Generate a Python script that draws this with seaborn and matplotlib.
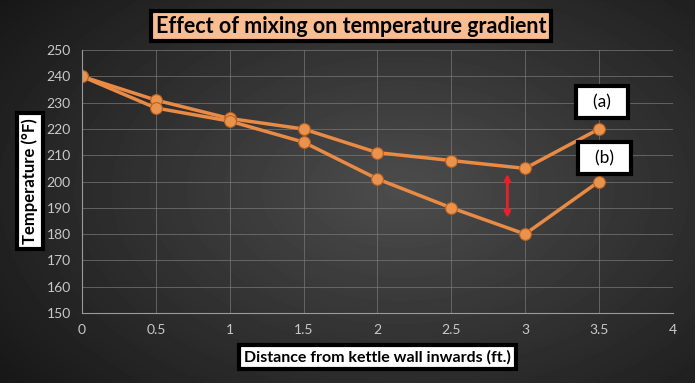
import numpy as np
import pandas as pd
import matplotlib.pyplot as plt
import seaborn as sns
from matplotlib.patches import FancyArrowPatch

distance = [0, 0.5, 1, 1.5, 2, 2.5, 3, 3.5]
temp_a = [240, 231, 224, 220, 211, 208, 205, 220]
temp_b = [240, 228, 223, 215, 201, 190, 180, 200]
series_names = ['(a)', '(b)']
arrow_x = 2.88
arrow_y = [204, 185]

df = pd.DataFrame({
    'distance': distance * 2,
    'temp': temp_a + temp_b,
    'series': [series_names[0]] * len(distance) + [series_names[1]] * len(distance),
})

sns.set_style('dark')
plt.rcParams['font.family'] = ['Lato', 'DejaVu Sans']

fig = plt.figure(figsize=(6.95, 3.83), dpi=100)

# radial gradient background
bg = fig.add_axes([0, 0, 1, 1], zorder=-1)
yy, xx = np.mgrid[0:383, 0:695]
r = np.sqrt(((xx - 400) / 480.0) ** 2 + ((yy - 190) / 300.0) ** 2)
shade = np.clip(0.30 - 0.20 * r, 0.09, 0.30)
bg.imshow(shade, cmap='gray', vmin=0, vmax=1, aspect='auto')
bg.axis('off')

ax = fig.add_axes([0.118, 0.183, 0.850, 0.686])
ax.set_facecolor('none')

sns.lineplot(data=df, x='distance', y='temp', hue='series',
             palette=['#e98a45', '#e98a45'], marker='o', markersize=8.5,
             markerfacecolor='#e9934f', markeredgecolor='#b8601f',
             markeredgewidth=0.8, linewidth=2.5, legend=False, ax=ax)

ax.set_xlim(0, 4)
ax.set_ylim(150, 250)
ax.set_xticks(np.arange(0, 4.01, 0.5))
ax.set_xticklabels(['0', '0.5', '1', '1.5', '2', '2.5', '3', '3.5', '4'])
ax.set_yticks(np.arange(150, 251, 10))
ax.grid(True, color='#7a7a7a', linewidth=0.6, alpha=0.8)
for s in ['top', 'right']:
    ax.spines[s].set_visible(False)
for s in ['left', 'bottom']:
    ax.spines[s].set_visible(True)
    ax.spines[s].set_color('#9a9a9a')
    ax.spines[s].set_linewidth(0.8)
ax.tick_params(colors='#c8c8c8', labelsize=10, length=0, pad=8)
ax.set_xlabel('')
ax.set_ylabel('')

arrow = FancyArrowPatch((arrow_x, arrow_y[0]), (arrow_x, arrow_y[1]),
                        arrowstyle='<|-|>', mutation_scale=9,
                        color='#e8202a', linewidth=2)
ax.add_patch(arrow)

fig.text(0.505, 0.932, 'Effect of mixing on temperature gradient',
         ha='center', va='center', fontsize=15.5, fontweight='bold',
         color='black',
         bbox=dict(boxstyle='square,pad=0.22', facecolor='#f9bd91',
                   edgecolor='black', linewidth=3))
fig.text(0.043, 0.528, 'Temperature (°F)', rotation=90,
         ha='center', va='center', fontsize=12, fontweight='bold',
         color='black',
         bbox=dict(boxstyle='square,pad=0.3', facecolor='white',
                   edgecolor='black', linewidth=3))
fig.text(0.543, 0.068, 'Distance from kettle wall inwards (ft.)',
         ha='center', va='center', fontsize=11.5, fontweight='bold',
         color='black',
         bbox=dict(boxstyle='square,pad=0.3', facecolor='white',
                   edgecolor='black', linewidth=3))
fig.text(0.866, 0.733, '  ' + series_names[0] + '  ', ha='center', va='center',
         fontsize=12.5, color='black',
         bbox=dict(boxstyle='square,pad=0.45', facecolor='white',
                   edgecolor='black', linewidth=3))
fig.text(0.870, 0.587, '  ' + series_names[1] + '  ', ha='center', va='center',
         fontsize=12.5, color='black',
         bbox=dict(boxstyle='square,pad=0.45', facecolor='white',
                   edgecolor='black', linewidth=3))

fig.savefig('out.png', dpi=100)
